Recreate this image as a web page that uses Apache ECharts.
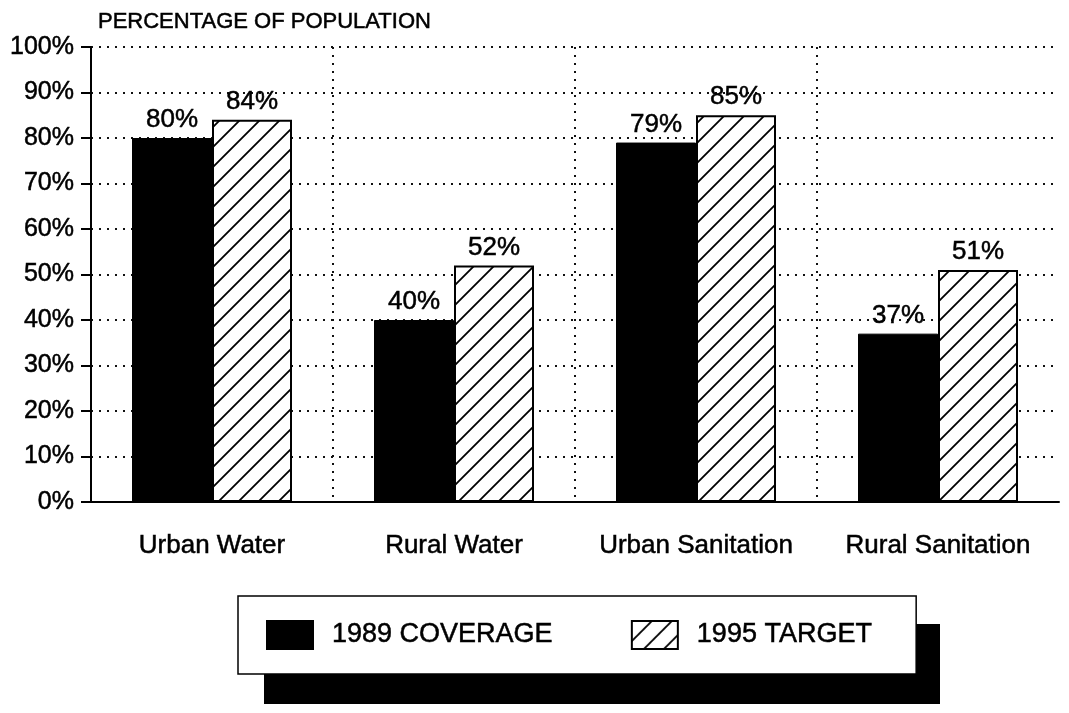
<!DOCTYPE html>
<html>
<head>
<meta charset="utf-8">
<script src="https://cdn.jsdelivr.net/npm/echarts@6/dist/echarts.min.js"></script>
<style>
  html, body { margin: 0; padding: 0; background: #fff; }
  #chart { width: 1069px; height: 713px; }
</style>
</head>
<body>
<div id="chart"></div>
<script>
const categories = ['Urban Water', 'Rural Water', 'Urban Sanitation', 'Rural Sanitation'];
const coverage1989 = [80, 40, 79, 37];
const target1995 = [84, 52, 85, 51];
const seriesNames = ['1989 COVERAGE', '1995 TARGET'];

const font = "'Liberation Sans', Arial, Helvetica, sans-serif";

// diagonal hatch tile for the target bars
function makeHatch() {
    let s = 20;
    let c = document.createElement('canvas');
    c.width = s; c.height = s;
    let ctx = c.getContext('2d');
    ctx.fillStyle = '#fff';
    ctx.fillRect(0, 0, s, s);
    ctx.strokeStyle = '#000';
    ctx.lineWidth = 1.8;
    ctx.beginPath();
    ctx.moveTo(0, s); ctx.lineTo(s, 0);
    ctx.moveTo(-2, 2); ctx.lineTo(2, -2);
    ctx.moveTo(s - 2, s + 2); ctx.lineTo(s + 2, s - 2);
    ctx.stroke();
    return c;
}

// scanned print looks a bit heavier than plain Arial
const ink = { color: '#000', fontFamily: font, textBorderColor: '#000', textBorderWidth: 0.5 };

const dotted = { color: '#111', width: 2, type: [2, 6] };
const labelStyle = Object.assign({
    show: true,
    position: 'top',
    distance: 5,
    fontSize: 26,
    formatter: '{c}%'
}, ink);

let option = {
    animation: false,
    backgroundColor: '#fff',
    title: {
        text: 'PERCENTAGE OF POPULATION',
        left: 98,
        top: 11,
        padding: 0,
        textStyle: Object.assign({ fontSize: 22, fontWeight: 'normal' }, ink)
    },
    // drop shadow of the legend box
    graphic: [{
        type: 'rect',
        z: 0,
        left: 264,
        top: 624,
        shape: { width: 676, height: 80 },
        style: { fill: '#000' }
    }],
    legend: {
        data: seriesNames,
        z: 10,
        left: 238,
        top: 596,
        orient: 'horizontal',
        padding: [24, 44, 24, 28],
        itemWidth: 46,
        itemHeight: 28,
        itemGap: 78,
        icon: 'rect',
        backgroundColor: '#fff',
        borderColor: '#000',
        borderWidth: 1.5,
        textStyle: Object.assign({ fontSize: 27, padding: [0, 0, 0, 14] }, ink)
    },
    grid: {
        left: 91,
        right: 10,
        top: 47,
        height: 455
    },
    xAxis: {
        type: 'category',
        data: categories,
        axisLine: { lineStyle: { color: '#000', width: 2 } },
        axisTick: { alignWithLabel: true, length: 11, lineStyle: { color: '#000', width: 1.5 } },
        axisLabel: Object.assign({ interval: 0, fontSize: 26, margin: 31 }, ink),
        splitLine: { show: true, showMinLine: false, showMaxLine: false, lineStyle: dotted }
    },
    yAxis: {
        type: 'value',
        min: 0,
        max: 100,
        interval: 10,
        axisLine: { show: true, lineStyle: { color: '#000', width: 2 } },
        axisTick: { show: true, length: 10, lineStyle: { color: '#000', width: 2 } },
        axisLabel: Object.assign({ fontSize: 25, margin: 17, formatter: '{value}%' }, ink),
        splitLine: { show: true, lineStyle: dotted }
    },
    series: [
        {
            name: seriesNames[0],
            type: 'bar',
            data: coverage1989,
            barWidth: 80,
            barGap: '0%',
            itemStyle: { color: '#000', borderColor: '#000', borderWidth: 1 },
            label: labelStyle
        },
        {
            name: seriesNames[1],
            type: 'bar',
            data: target1995,
            barWidth: 80,
            barGap: '0%',
            itemStyle: {
                color: { image: makeHatch(), repeat: 'repeat' },
                borderColor: '#000',
                borderWidth: 2
            },
            label: labelStyle
        }
    ]
};

let myChart = echarts.init(document.getElementById('chart'));
myChart.setOption(option);
</script>
</body>
</html>
